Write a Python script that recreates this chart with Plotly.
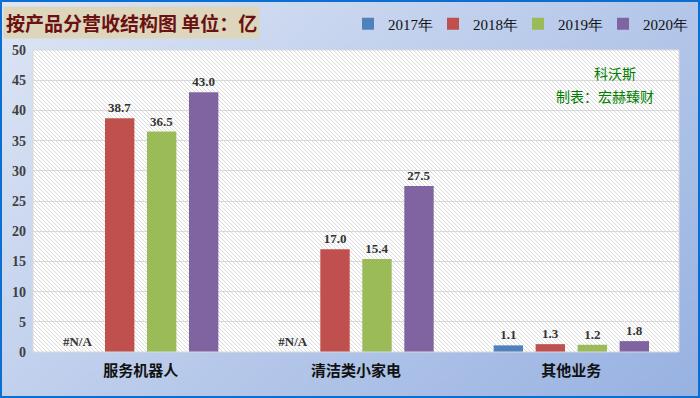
import base64, struct, zlib
import plotly.graph_objects as go

categories = ["服务机器人", "清洁类小家电", "其他业务"]
years = ["2017年", "2018年", "2019年", "2020年"]
v2017 = [None, None, 1.1]
v2018 = [38.7, 17.0, 1.3]
v2019 = [36.5, 15.4, 1.2]
v2020 = [43.0, 27.5, 1.8]
series = [v2017, v2018, v2019, v2020]
colors = ["#4f81bd", "#c0504d", "#9bbb59", "#8064a2"]

W, H = 700, 398
ML, MR, MT, MB = 33, 21, 50, 46
PW, PH = W - ML - MR, H - MT - MB


def png(w, h, fn):
    raw = bytearray()
    for y in range(h):
        raw.append(0)
        for x in range(w):
            raw.extend(fn(x, y))
    def chunk(t, d):
        c = struct.pack(">I", len(d)) + t + d
        return c + struct.pack(">I", zlib.crc32(t + d) & 0xffffffff)
    data = b"\x89PNG\r\n\x1a\n" + chunk(b"IHDR", struct.pack(">IIBBBBB", w, h, 8, 2, 0, 0, 0))
    data += chunk(b"IDAT", zlib.compress(bytes(raw), 9)) + chunk(b"IEND", b"")
    return "data:image/png;base64," + base64.b64encode(data).decode()


c0 = (222, 230, 245)
c1 = (152, 178, 226)
GW, GH = 140, 80
def grad(x, y):
    t = (x / (GW - 1)) * 0.6 + (y / (GH - 1)) * 0.4
    return bytes(int(c0[i] + (c1[i] - c0[i]) * t) for i in range(3))
grad_uri = png(GW, GH, grad)

def hatch(x, y):
    return bytes((218, 218, 218)) if (x - y) % 4 == 0 else bytes((255, 255, 255))
hatch_uri = png(PW, PH, hatch)

fig = go.Figure()
for yr, vals, col in zip(years, series, colors):
    labels = ["#N/A" if v is None else f"{v:.1f}" for v in vals]
    fig.add_trace(go.Bar(
        name=yr, x=categories, y=[0 if v is None else v for v in vals],
        marker=dict(color=col, line=dict(width=0)),
        text=labels, textposition="outside", cliponaxis=False,
        textfont=dict(family="Liberation Serif", size=13, color="#333333", weight="bold"),
    ))

fig.update_layout(
    width=W, height=H,
    margin=dict(l=ML, r=MR, t=MT, b=MB, autoexpand=False),
    paper_bgcolor="#c9d6ef", plot_bgcolor="white",
    barmode="group", bargap=0.22, bargroupgap=0.3,
    showlegend=True,
    legend=dict(orientation="h", xref="container", yref="container",
                x=348 / W, y=1 - 24 / H, xanchor="left", yanchor="middle",
                font=dict(family="Liberation Serif", size=15, color="#111111"),
                bgcolor="rgba(0,0,0,0)", itemwidth=30, traceorder="normal",
                entrywidth=40),
    xaxis=dict(showgrid=False, showline=False, ticks="",
               tickfont=dict(family="Noto Sans CJK SC", size=15, color="#111111", weight="bold"),
               ticklabelstandoff=8, range=[-0.5, 2.5]),
    yaxis=dict(range=[0, 50], dtick=5, showgrid=True, gridcolor="#d9d9d9", gridwidth=1,
               zeroline=False, showline=False, ticks="",
               tickfont=dict(family="Liberation Serif", size=14, color="#404040", weight="bold"),
               ticklabelstandoff=6),
    images=[
        dict(source=grad_uri, xref="paper", yref="paper",
             x=-ML / PW, y=1 + MT / PH, sizex=W / PW, sizey=H / PH,
             sizing="stretch", layer="below", xanchor="left", yanchor="top"),
        dict(source=hatch_uri, xref="x domain", yref="y domain",
             x=0, y=1, sizex=1, sizey=1, sizing="stretch", layer="below",
             xanchor="left", yanchor="top"),
    ],
    shapes=[
        dict(type="rect", xref="x domain", yref="y domain", x0=0, x1=1, y0=0, y1=1,
             line=dict(color="#d9d9d9", width=1), layer="above"),
        dict(type="line", xref="x", yref="y domain", x0=0.5, x1=0.5, y0=0, y1=1,
             line=dict(color="#d9d9d9", width=1), layer="below"),
        dict(type="line", xref="x", yref="y domain", x0=1.5, x1=1.5, y0=0, y1=1,
             line=dict(color="#d9d9d9", width=1), layer="below"),
        dict(type="rect", xref="paper", yref="paper",
             x0=-ML / PW + 1 / PW, x1=1 + MR / PW - 1 / PW,
             y0=-MB / PH + 1 / PH, y1=1 + MT / PH - 1 / PH,
             line=dict(color="#0a6fd0", width=2), layer="above"),
    ],
    annotations=[
        dict(text="<b>按产品分营收结构图 单位：亿</b>", xref="paper", yref="paper",
             x=-ML / PW + 3 / PW, y=1 + (MT - 6) / PH, xanchor="left", yanchor="top",
             showarrow=False, bgcolor="#ddd6bd", borderpad=2,
             font=dict(family="Noto Sans CJK SC", size=19, color="#6b1111")),
        dict(text="科沃斯", xref="paper", yref="paper", x=0.901, y=0.924,
             xanchor="center", yanchor="middle",
             showarrow=False, font=dict(family="Noto Sans CJK SC", size=14, color="#008000")),
        dict(text="制表：宏赫臻财", xref="paper", yref="paper", x=0.885, y=0.848,
             xanchor="center", yanchor="middle",
             showarrow=False, font=dict(family="Noto Sans CJK SC", size=14, color="#008000")),
    ],
)
fig.write_html("out.html", post_script="document.body.style.margin='0';",
               config={"displayModeBar": False})
